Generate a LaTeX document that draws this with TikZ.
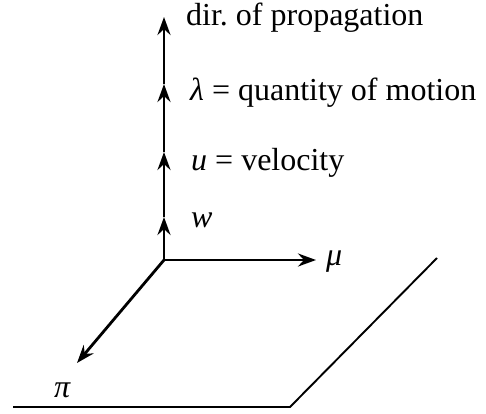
\documentclass[tikz,border=0pt]{standalone}
\usepackage{fontspec}
\setmainfont{Liberation Serif}
\usetikzlibrary{arrows.meta}
\begin{document}
\frenchspacing
\begin{tikzpicture}[x=1pt,y=-1pt,
  axis/.style={line width=2.8pt,-{Stealth[length=18pt,width=13pt,inset=6pt]}},
  plane/.style={line width=1.9pt},
  lbl/.style={anchor=base west,inner sep=0pt,font=\fontsize{32}{38}\selectfont}]
\useasboundingbox (0,0) rectangle (486,413);
\coordinate (O) at (164,260);
\coordinate (w) at (164,217);
\coordinate (u) at (164,152);
\coordinate (l) at (164,84);
\coordinate (top) at (164,17);
\coordinate (mu) at (316,260);
\coordinate (pi) at (77,363);
\coordinate (p1) at (13,407);
\coordinate (p2) at (290,407);
\coordinate (p3) at (437,258);
\draw[axis] (O) -- (w);
\draw[axis] (w) -- (u);
\draw[axis] (u) -- (l);
\draw[axis] (l) -- (top);
\draw[axis] (O) -- (mu);
\draw[axis] (O) -- (pi);
\draw[plane] (p1) -- (p2) -- (p3);
\node[lbl] (tdir) at (186,25) {dir.\ of propagation};
\node[lbl] (tlam) at (190,100) {\textit{λ} = quantity of motion};
\node[lbl] (tu) at (191,170) {\textit{u} = velocity};
\node[lbl] (tw) at (191,227) {\textit{w}};
\node[lbl] (tmu) at (326,265) {\textit{μ}};
\node[lbl] (tpi) at (54,397) {\textit{π}};
\end{tikzpicture}
\end{document}
